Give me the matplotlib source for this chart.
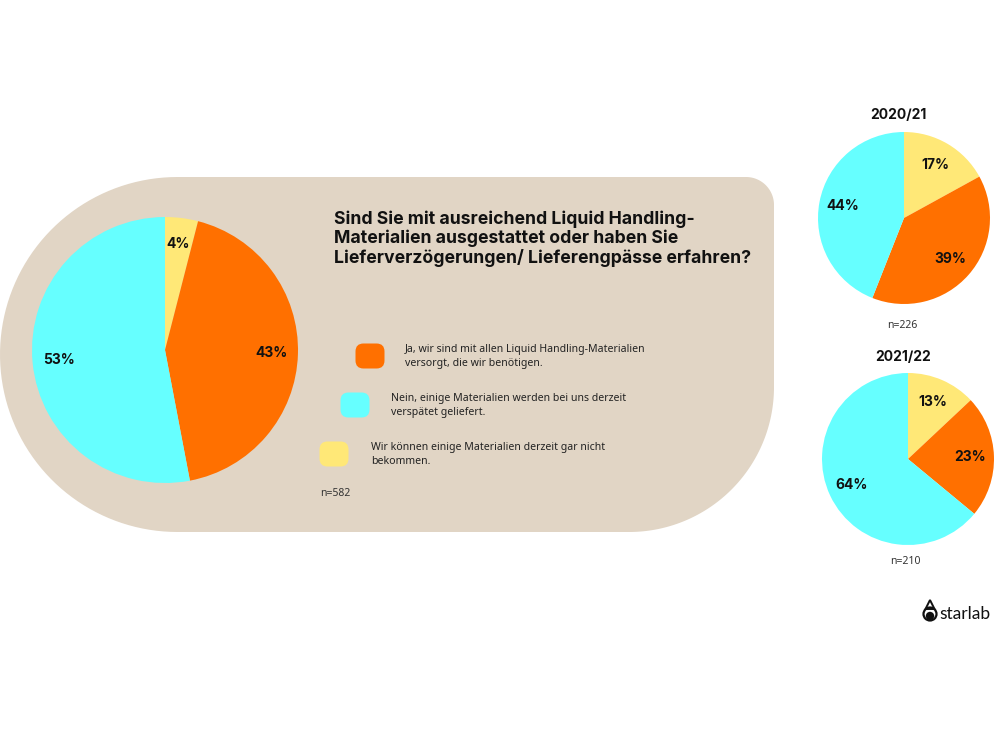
import numpy as np
import matplotlib
matplotlib.use("Agg")
import matplotlib.pyplot as plt
from matplotlib.patches import Polygon, FancyBboxPatch, Circle

# ---------------- data ----------------
categories = [
    "Wir können einige Materialien derzeit gar nicht\nbekommen.",
    "Ja, wir sind mit allen Liquid Handling-Materialien\nversorgt, die wir benötigen.",
    "Nein, einige Materialien werden bei uns derzeit\nverspätet geliefert.",
]
colors = ["#FFE877", "#FF7000", "#66FFFF"]   # yellow, orange, cyan
main_values = [4, 43, 53]
main_n = "n=582"
y2021_values = [17, 39, 44]
y2021_title = "2020/21"
y2021_n = "n=226"
y2022_values = [13, 23, 64]
y2022_title = "2021/22"
y2022_n = "n=210"
title = ("Sind Sie mit ausreichend Liquid Handling-\n"
         "Materialien ausgestattet oder haben Sie\n"
         "Lieferverzögerungen/ Lieferengpässe erfahren?")

W, H = 1000, 750
fig = plt.figure(figsize=(10, 7.5), dpi=100)
fig.patch.set_facecolor("white")

bg = fig.add_axes([0, 0, 1, 1])
bg.set_xlim(0, W)
bg.set_ylim(H, 0)
bg.axis("off")

# ---------------- beige background shape ----------------
def arc(cx, cy, r, a0, a1, n=80):
    t = np.radians(np.linspace(a0, a1, n))
    return np.column_stack([cx + r * np.cos(t), cy + r * np.sin(t)])

top, bot, right = 177, 532, 774
rl = (bot - top) / 2
r_tr, r_br = 28, 145
pts = np.vstack([
    arc(rl, top + rl, rl, 90, 270),                         # left half circle
    arc(right - r_tr, top + r_tr, r_tr, 270, 360),          # top-right corner
    arc(right - r_br, bot - r_br, r_br, 0, 90),             # bottom-right big corner
])
bg.add_patch(Polygon(pts, closed=True, facecolor="#E1D5C5", edgecolor="none"))


def draw_pie(cx, cy, r, values, pctdist):
    ax = fig.add_axes([(cx - r) / W, 1 - (cy + r) / H, 2 * r / W, 2 * r / H])
    ax.pie(values, colors=colors, startangle=90, counterclock=False,
           radius=1, autopct=lambda p: f"{p:.0f}%", pctdistance=pctdist,
           wedgeprops=dict(linewidth=0),
           textprops=dict(fontsize=10, fontweight="bold", color="#111111",
                          family="Inter"))
    ax.set_xlim(-1, 1)
    ax.set_ylim(-1, 1)
    ax.set_aspect("equal")
    ax.axis("off")
    return ax

draw_pie(165, 350, 133, main_values, 0.8)
draw_pie(904, 218, 86, y2021_values, 0.72)
draw_pie(908, 459, 86, y2022_values, 0.72)

# ---------------- texts ----------------
bg.text(334, 239, title, fontsize=12.7, fontweight="bold", family="Inter",
        color="#111111", va="center", ha="left", linespacing=1.12)

# legend blobs (diagonal layout like reference)
leg_pos = [(334, 454, 371), (370, 356, 405), (355, 405, 391)]
for (bx, by, tx), col, lab in zip(leg_pos, colors, categories):
    bg.add_patch(FancyBboxPatch((bx - 11, by - 9), 22, 18,
                                boxstyle="round,pad=3.5,rounding_size=8",
                                facecolor=col, edgecolor="none"))
    bg.text(tx, by + 0.5, lab, fontsize=7.6, family="Noto Sans", color="#222222",
            va="center", ha="left", linespacing=1.45)

bg.text(335, 493, main_n, fontsize=7.5, family="Noto Sans", color="#333333",
        ha="center", va="center")

bg.text(898, 115, y2021_title, fontsize=10, fontweight="bold", family="Inter",
        color="#111111", ha="center", va="center")
bg.text(902, 326, y2021_n, fontsize=7.5, family="Noto Sans", color="#333333",
        ha="center", va="center")
bg.text(903, 357, y2022_title, fontsize=10, fontweight="bold", family="Inter",
        color="#111111", ha="center", va="center")
bg.text(905, 562, y2022_n, fontsize=7.5, family="Noto Sans", color="#333333",
        ha="center", va="center")

# starlab logo
bg.add_patch(Circle((930, 614), 6.5, facecolor="none", edgecolor="#111111", linewidth=1.6))
bg.add_patch(Polygon([[925.5, 609], [930, 600], [934.5, 609]], closed=True,
                     facecolor="none", edgecolor="#111111", linewidth=1.4))
bg.add_patch(Circle((930, 616), 4.2, facecolor="#111111", edgecolor="none"))
bg.text(939, 614, "starlab", fontsize=12.5, family="Lato", color="#111111",
        ha="left", va="center")

fig.savefig("out.png", dpi=100, facecolor="white")
